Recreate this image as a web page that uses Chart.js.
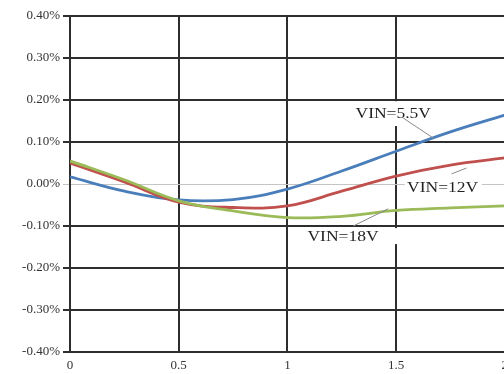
<!DOCTYPE html>
<html>
<head>
<meta charset="utf-8">
<script src="https://cdn.jsdelivr.net/npm/chart.js@4.4.1/dist/chart.umd.min.js"></script>
<style>
  html, body { margin: 0; padding: 0; background: #fff; overflow: hidden; }
  #wrap { position: relative; width: 514px; height: 374px; }
</style>
</head>
<body>
<div id="wrap"><canvas id="chart"></canvas></div>
<script>
// x 軸（負載電流）與各輸入電壓的誤差 (%)
const xValues = [0, 0.25, 0.5, 0.75, 1.0, 1.25, 1.5, 1.75, 2.0];
const vin55 = [0.017, -0.017, -0.038, -0.037, -0.012, 0.031, 0.078, 0.124, 0.164];
const vin12 = [0.050, 0.005, -0.043, -0.056, -0.052, -0.017, 0.019, 0.045, 0.062];
const vin18 = [0.055, 0.010, -0.040, -0.064, -0.080, -0.077, -0.063, -0.057, -0.052];
const seriesNames = ['VIN=5.5V', 'VIN=12V', 'VIN=18V'];
const yTicks = [-0.4, -0.3, -0.2, -0.1, 0, 0.1, 0.2, 0.3, 0.4];
const xTicks = [0, 0.5, 1, 1.5, 2];

const FONT = '"Liberation Serif", "DejaVu Serif", serif';
const GRID_DARK = '#2e2e2e';

function toPoints(ys) {
    return xValues.map((x, i) => ({ x: x, y: ys[i] }));
}

// 標籤：文字位置、白底框、引線（皆以資料座標表示）
const callouts = [
    { text: seriesNames[0], tx: 1.487, ty: 0.166, box: [1.30, 0.197, 1.71, 0.138], line: [1.533, 0.157, 1.672, 0.109] },
    { text: seriesNames[1], tx: 1.714, ty: -0.0095, box: [1.54, 0.014, 1.894, -0.033], line: [1.755, 0.024, 1.824, 0.038] },
    { text: seriesNames[2], tx: 1.256, ty: -0.128, box: [1.06, -0.105, 1.524, -0.143], line: [1.303, -0.100, 1.464, -0.059] }
];

const calloutPlugin = {
    id: 'callouts',
    afterDatasetsDraw(chart) {
        const ctx = chart.ctx;
        const xs = chart.scales.x;
        const ys = chart.scales.y;
        ctx.save();
        callouts.forEach(c => {
            const bx1 = xs.getPixelForValue(c.box[0]);
            const by1 = ys.getPixelForValue(c.box[1]);
            const bx2 = xs.getPixelForValue(c.box[2]);
            const by2 = ys.getPixelForValue(c.box[3]);
            ctx.fillStyle = '#fff';
            ctx.fillRect(bx1, by1, bx2 - bx1, by2 - by1);

            ctx.strokeStyle = '#8a8a8a';
            ctx.lineWidth = 1;
            ctx.beginPath();
            ctx.moveTo(xs.getPixelForValue(c.line[0]), ys.getPixelForValue(c.line[1]));
            ctx.lineTo(xs.getPixelForValue(c.line[2]), ys.getPixelForValue(c.line[3]));
            ctx.stroke();

            // 原圖文字略為橫向拉寬
            ctx.save();
            ctx.translate(xs.getPixelForValue(c.tx), ys.getPixelForValue(c.ty));
            ctx.scale(1.25, 1);
            ctx.fillStyle = '#222';
            ctx.font = '14px ' + FONT;
            ctx.textAlign = 'center';
            ctx.textBaseline = 'middle';
            ctx.fillText(c.text, 0, 0);
            ctx.restore();
        });
        ctx.restore();
    }
};

new Chart(document.getElementById('chart'), {
    type: 'line',
    data: {
        datasets: [
            { label: seriesNames[0], data: toPoints(vin55), borderColor: '#4a7ebb', order: 2 },
            { label: seriesNames[1], data: toPoints(vin12), borderColor: '#c0504d', order: 1 },
            { label: seriesNames[2], data: toPoints(vin18), borderColor: '#9bbb59', order: 0 }
        ]
    },
    options: {
        responsive: true,
        maintainAspectRatio: false,
        animation: false,
        layout: { padding: { top: 16, left: 0, right: 0, bottom: 0 } },
        elements: {
            line: { borderWidth: 2.8, tension: 0.4, fill: false },
            point: { radius: 0 }
        },
        plugins: {
            legend: { display: false },
            tooltip: { enabled: false }
        },
        scales: {
            x: {
                type: 'linear',
                min: 0,
                max: 2,
                afterBuildTicks: axis => { axis.ticks = xTicks.map(v => ({ value: v })); },
                afterFit: axis => { axis.height = 22; },
                grid: { color: GRID_DARK, lineWidth: 2, drawTicks: false },
                border: { color: GRID_DARK, width: 2 },
                ticks: {
                    padding: 6,
                    color: '#333',
                    font: { family: FONT, size: 13 },
                    maxRotation: 0,
                    callback: v => String(v)
                }
            },
            y: {
                min: -0.4,
                max: 0.4,
                afterBuildTicks: axis => { axis.ticks = yTicks.map(v => ({ value: v })); },
                afterFit: axis => { axis.width = 70; },
                grid: {
                    color: c => (c.tick && Math.abs(c.tick.value) < 1e-9) ? '#c4c4c4' : GRID_DARK,
                    lineWidth: c => (c.tick && Math.abs(c.tick.value) < 1e-9) ? 1 : 2,
                    tickLength: 7
                },
                border: { color: GRID_DARK, width: 2 },
                ticks: {
                    padding: 3,
                    color: '#333',
                    font: { family: FONT, size: 13 },
                    callback: v => v.toFixed(2) + '%'
                }
            }
        }
    },
    plugins: [calloutPlugin]
});
</script>
</body>
</html>
